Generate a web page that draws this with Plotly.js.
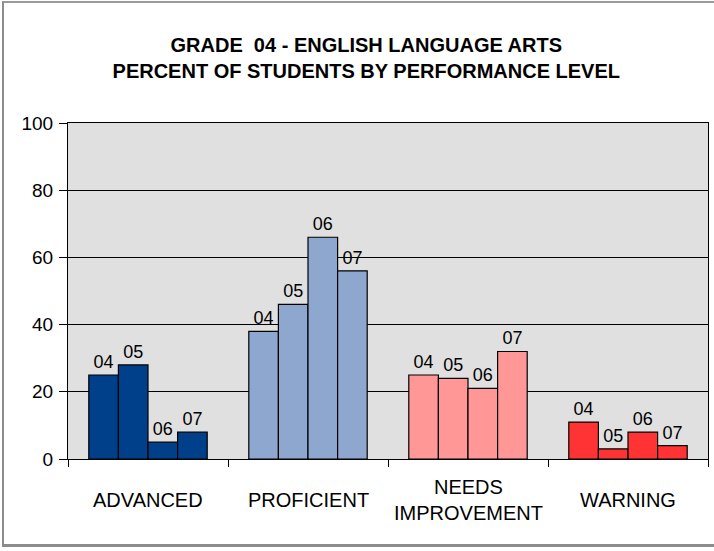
<!DOCTYPE html>
<html>
<head>
<meta charset="utf-8">
<script src="https://cdn.plot.ly/plotly-3.0.1.min.js"></script>
<style>
  html, body { margin: 0; padding: 0; background: #fff; }
  #wrap { position: relative; width: 714px; height: 551px; overflow: hidden; }
  #chart { position: absolute; left: 0; top: 0; width: 714px; height: 551px; }
  #frame { position: absolute; left: 2px; top: 1px; width: 730px; height: 541px;
           border-left: 2px solid #8c8c8c; border-top: 2px solid #9a9a9a;
           border-bottom: 3px solid #8c8c8c; pointer-events: none; }
</style>
</head>
<body>
<div id="wrap">
  <div id="chart"></div>
  <div id="frame"></div>
</div>
<script>
// Performance levels (categories)
const categories = ['ADVANCED', 'PROFICIENT', 'NEEDS IMPROVEMENT', 'WARNING'];
const categoryLabels = ['ADVANCED', 'PROFICIENT', 'NEEDS<br>IMPROVEMENT', 'WARNING'];
// Years (series)
const years = ['04', '05', '06', '07'];
// Percent of students per year, in category order
const values04 = [25, 38, 25, 11];
const values05 = [28, 46, 24, 3];
const values06 = [5, 66, 21, 8];
const values07 = [8, 56, 32, 4];
// Colour of each category's bars
const categoryColors = ['#00408A', '#8EA7CF', '#FF9797', '#FF3333'];

const seriesValues = [values04, values05, values06, values07];
const FONT = 'Arial, "Liberation Sans", sans-serif';

const traces = years.map((yr, i) => ({
  type: 'bar',
  name: yr,
  x: categories,
  y: seriesValues[i],
  text: categories.map(() => yr),
  textposition: 'outside',
  textfont: { family: FONT, size: 18, color: '#000' },
  cliponaxis: false,
  marker: { color: categoryColors, line: { color: '#000', width: 1.2 } },
  hoverinfo: 'x+y'
}));

const annotations = categories.map((c, i) => ({
  x: c, xref: 'x',
  y: -0.123, yref: 'paper',
  text: categoryLabels[i],
  showarrow: false,
  xanchor: 'center', yanchor: 'middle',
  font: { family: FONT, size: 20, color: '#000' }
}));

const layout = {
  width: 714, height: 551,
  margin: { l: 68, r: 6, t: 123, b: 92 },
  paper_bgcolor: '#ffffff',
  plot_bgcolor: '#E0E0E0',
  showlegend: false,
  barmode: 'group',
  bargap: 0.26,
  bargroupgap: 0,
  title: {
    text: 'GRADE\u00a0\u00a004 - ENGLISH LANGUAGE ARTS<br>PERCENT OF STUDENTS BY PERFORMANCE LEVEL',
    font: { family: FONT, size: 20, color: '#000', weight: 'bold' },
    x: 0.513, xref: 'container', xanchor: 'center',
    y: 0.905, yref: 'container', yanchor: 'top'
  },
  xaxis: {
    type: 'category',
    showticklabels: false,
    ticks: 'outside', ticklen: 7, tickcolor: '#000',
    tickson: 'boundaries',
    showgrid: false,
    showline: true, linecolor: '#000', linewidth: 1, mirror: true,
    fixedrange: true
  },
  yaxis: {
    range: [0, 100], dtick: 20,
    ticks: 'outside', ticklen: 8, tickcolor: '#000',
    tickfont: { family: FONT, size: 19, color: '#000' },
    ticklabelstandoff: 2,
    showgrid: true, gridcolor: '#000', gridwidth: 1,
    zeroline: false,
    showline: true, linecolor: '#000', linewidth: 1, mirror: true,
    fixedrange: true
  },
  annotations: annotations
};

Plotly.newPlot('chart', traces, layout, { displayModeBar: false, staticPlot: true });
</script>
</body>
</html>
